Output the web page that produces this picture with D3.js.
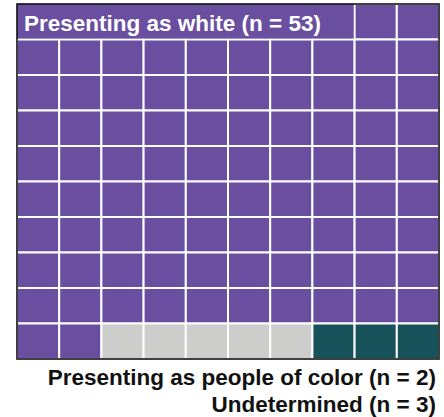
<!DOCTYPE html>
<html><head><meta charset="utf-8">
<script src="https://cdn.jsdelivr.net/npm/d3@7"></script>
<style>html,body{margin:0;padding:0;background:#fff;}svg{display:block;}</style>
</head><body>
<svg id="chart" width="444" height="417"></svg>
<script>
const categories = ["Presenting as white", "Undetermined", "Presenting as people of color"];
const counts = [53, 3, 2];
const cellCounts = [92, 5, 3];
const colors = ["#6a4fa1", "#cdcdcb", "#17525b"];
const gridCols = d3.range(10);
const gridRows = d3.range(10);

const svg = d3.select("#chart");
const gLeft = 17, gRight = 439, gTop = 4, gBottom = 359;
const x = d3.scaleBand().domain(gridCols).range([gLeft, gRight]);
const y = d3.scaleBand().domain(gridRows).range([gTop, gBottom]);

const cells = [];
categories.forEach((c, i) => { for (let k = 0; k < cellCounts[i]; k++) cells.push(i); });
const cellData = cells.map((cat, idx) => ({cat, col: idx % 10, row: Math.floor(idx / 10)}));

svg.append("g").selectAll("rect").data(cellData).join("rect")
  .attr("x", d => x(d.col)).attr("y", d => y(d.row))
  .attr("width", x.bandwidth()).attr("height", y.bandwidth())
  .attr("fill", d => colors[d.cat])
  .attr("stroke", "#fff").attr("stroke-width", 2);

// label box covering first 8 cells of top row
svg.append("rect")
  .attr("x", x(0)).attr("y", y(0))
  .attr("width", x(7) + x.bandwidth() - x(0) - 1).attr("height", y.bandwidth() - 1)
  .attr("fill", colors[0]);

// outer frame
svg.append("rect")
  .attr("x", gLeft).attr("y", gTop).attr("width", gRight - gLeft).attr("height", gBottom - gTop)
  .attr("fill", "none").attr("stroke", "#111").attr("stroke-width", 1.6);

const font = "'Liberation Sans', Arial, Helvetica, sans-serif";
svg.append("text")
  .attr("x", 24).attr("y", 30.5)
  .attr("fill", "#fff").attr("font-family", font).attr("font-weight", "bold")
  .attr("font-size", 22.5)
  .text(`${categories[0]} (n = ${counts[0]})`);

const bottomLabels = [`${categories[2]} (n = ${counts[2]})`, `${categories[1]} (n = ${counts[1]})`];
svg.append("g").selectAll("text").data(bottomLabels).join("text")
  .attr("x", 436).attr("y", (d, i) => 384.5 + i * 27.5)
  .attr("text-anchor", "end")
  .attr("fill", "#111").attr("font-family", font).attr("font-weight", "bold")
  .attr("font-size", 22.5)
  .text(d => d);
</script>
</body></html>
